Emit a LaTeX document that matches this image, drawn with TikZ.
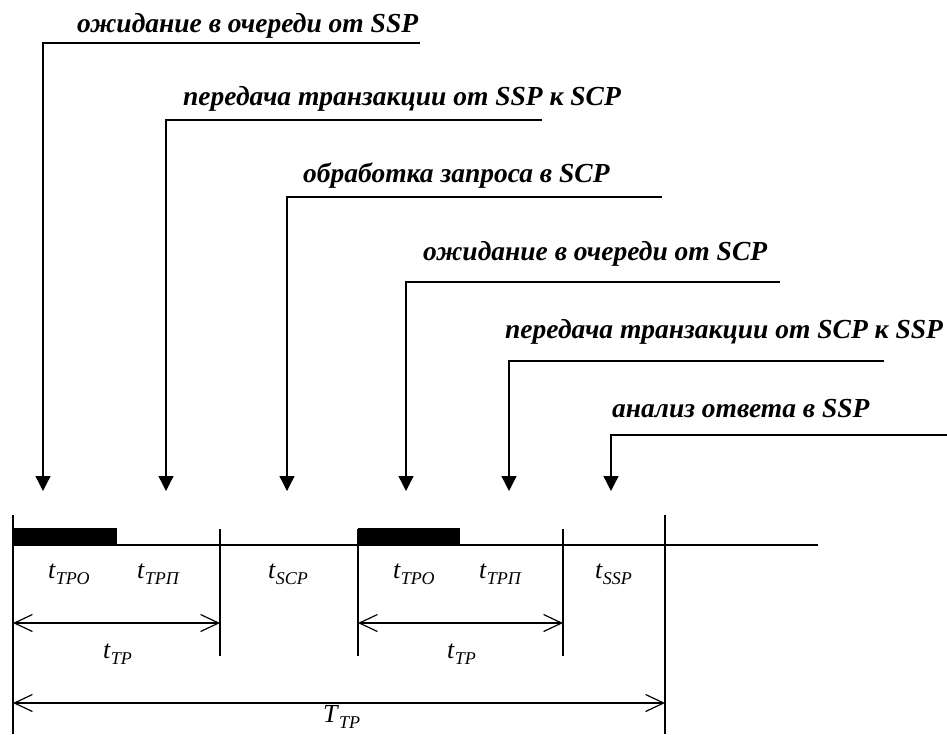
\documentclass[tikz,border=0pt]{standalone}
\usepackage{fontspec}
\setmainfont{Liberation Serif}
\usetikzlibrary{arrows.meta}
\newcommand\tlab[2]{\textit{#1}\raisebox{-0.26em}{\fontsize{18}{18}\selectfont\itshape #2}}
\begin{document}
\begin{tikzpicture}[x=1pt,y=-1pt,
  lbl/.style={font=\fontsize{27.5}{30}\selectfont\bfseries\itshape, anchor=base west, inner sep=0pt},
  tl/.style={font=\fontsize{26}{28}\selectfont, anchor=base west, inner sep=0pt},
  leader/.style={line width=1.3pt, -{Triangle[length=15pt,width=15pt]}},
  thin/.style={line width=1.3pt},
  bar/.style={fill=black},
  dim/.style={line width=1.2pt, {Straight Barb[length=18pt,width=17pt,line width=1.2pt]}-{Straight Barb[length=18pt,width=17pt,line width=1.2pt]}}
]
\useasboundingbox (0,0) rectangle (947,734);

% labels
\node[lbl] (L1) at (77,32) {ожидание в очереди от SSP};
\node[lbl] (L2) at (183,105) {передача транзакции от SSP к SCP};
\node[lbl] (L3) at (303,182) {обработка запроса в SCP};
\node[lbl] (L4) at (423,260) {ожидание в очереди от SCP};
\node[lbl] (L5) at (505,338) {передача транзакции от SCP к SSP};
\node[lbl] (L6) at (612,417) {анализ ответа в SSP};

% leader coordinates
\coordinate (a1e) at (420,43);  \coordinate (a1c) at (43,43);  \coordinate (a1t) at (43,491);
\coordinate (a2e) at (542,120); \coordinate (a2c) at (166,120); \coordinate (a2t) at (166,491);
\coordinate (a3e) at (662,197); \coordinate (a3c) at (287,197); \coordinate (a3t) at (287,491);
\coordinate (a4e) at (780,282); \coordinate (a4c) at (406,282); \coordinate (a4t) at (406,491);
\coordinate (a5e) at (884,361); \coordinate (a5c) at (509,361); \coordinate (a5t) at (509,491);
\coordinate (a6e) at (947,435); \coordinate (a6c) at (611,435); \coordinate (a6t) at (611,491);

\draw[leader] (a1e) -- (a1c) -- (a1t);
\draw[leader] (a2e) -- (a2c) -- (a2t);
\draw[leader] (a3e) -- (a3c) -- (a3t);
\draw[leader] (a4e) -- (a4c) -- (a4t);
\draw[leader] (a5e) -- (a5c) -- (a5t);
\draw[leader] (a6e) -- (a6c) -- (a6t);

% timeline
\coordinate (tl0) at (13,545); \coordinate (tl1) at (818,545);
\draw[thin] (tl0) -- (tl1);
\fill[bar] (13,528) rectangle (117,546);
\fill[bar] (358,528) rectangle (460,546);

% ticks
\coordinate (k1a) at (13,515);  \coordinate (k1b) at (13,734);
\coordinate (k2a) at (220,529); \coordinate (k2b) at (220,656);
\coordinate (k3a) at (358,529); \coordinate (k3b) at (358,656);
\coordinate (k4a) at (563,529); \coordinate (k4b) at (563,656);
\coordinate (k5a) at (665,515); \coordinate (k5b) at (665,734);
\draw[thin] (k1a) -- (k1b);
\draw[thin] (k2a) -- (k2b);
\draw[thin] (k3a) -- (k3b);
\draw[thin] (k4a) -- (k4b);
\draw[thin] (k5a) -- (k5b);

% interval labels
\node[tl] (t1) at (48,578) {\tlab{t}{ТРО}};
\node[tl] (t2) at (137,578) {\tlab{t}{ТРП}};
\node[tl] (t3) at (268,578) {\tlab{t}{SCP}};
\node[tl] (t4) at (393,578) {\tlab{t}{ТРО}};
\node[tl] (t5) at (479,578) {\tlab{t}{ТРП}};
\node[tl] (t6) at (595,578) {\tlab{t}{SSP}};

% dimension arrows
\coordinate (d1a) at (13,623);  \coordinate (d1b) at (220,623);
\coordinate (d2a) at (358,623); \coordinate (d2b) at (563,623);
\coordinate (d3a) at (13,703);  \coordinate (d3b) at (665,703);
\draw[dim] (d1a) -- (d1b);
\draw[dim] (d2a) -- (d2b);
\draw[dim] (d3a) -- (d3b);
\node[tl] (tp1) at (103,658) {\tlab{t}{ТР}};
\node[tl] (tp2) at (447,658) {\tlab{t}{ТР}};
\node[tl] (TP) at (323,722) {\tlab{T}{ТР}};
\end{tikzpicture}
\end{document}
